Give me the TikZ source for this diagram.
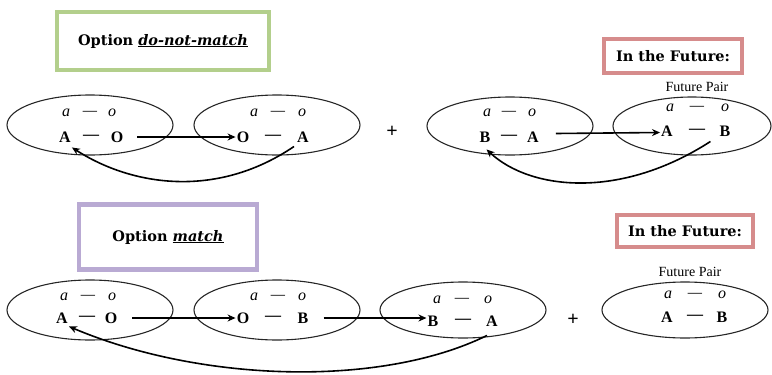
\documentclass[tikz,border=0pt]{standalone}
\usepackage{fontspec}
\setmainfont{Liberation Serif}
\newfontfamily\boxfont{DejaVu Serif}
\usepackage{tikz}
\usepackage{xcolor}
\usetikzlibrary{shapes.geometric,shadows,arrows.meta}

\definecolor{optgreen}{HTML}{B3CF8C}
\definecolor{optpurple}{HTML}{B9AAD3}
\definecolor{futred}{HTML}{D68C8C}

\tikzset{
  pairell/.style={draw=black!85, ellipse, line width=1.1pt, minimum width=#1, minimum height=58pt},
  pairell/.default=166pt,
  lt/.style={inner sep=1pt, font=\fontsize{16}{16}\selectfont\bfseries},
  st/.style={inner sep=1pt, font=\fontsize{16}{16}\selectfont\itshape},
  optbox/.style={draw=#1, line width=4.5pt, fill=white, drop shadow={opacity=0.35, shadow xshift=2pt, shadow yshift=-2pt},
    font=\boxfont\fontsize{14.5}{15}\selectfont\bfseries},
  flow/.style={-{Stealth[length=8pt,width=7pt]}, line width=1.6pt},
}

\begin{document}
\begin{tikzpicture}[x=1pt, y=-1pt]
    \useasboundingbox (0,0) rectangle (772,375);

    % option boxes
    \node[optbox=optgreen, minimum width=212pt, minimum height=58pt] (opt1) at (163,41) {Option \underline{\itshape do-not-match}};
    \node[optbox=futred, minimum width=138pt, minimum height=34pt] (fut1) at (673,56) {In the Future:};
    \node[optbox=optpurple, minimum width=178pt, minimum height=65pt] (opt2) at (168,237) {Option \underline{\itshape match}};
    \node[optbox=futred, minimum width=136pt, minimum height=32pt] (fut2) at (685,231) {In the Future:};

    \node[font=\fontsize{14}{14}\selectfont] (fp1) at (697,87) {Future Pair};
    \node[font=\fontsize{14}{14}\selectfont] (fp2) at (690,272) {Future Pair};

    % top row
    \node[pairell, minimum height=60pt] (e1) at (90,125) {};
    \node[pairell, minimum height=60pt] (e2) at (277,125) {};
    \node[pairell] (e3) at (510,126) {};
    \node[pairell=158pt] (e4) at (692,126) {};

    \node[st] (e1a) at (66,113) {a}; \node[st] at (90,113) {---}; \node[st] (e1o) at (112,113) {o};
    \node[lt] (e1A) at (65,137) {A}; \node[lt] at (91,137) {---}; \node[lt] (e1O) at (117,137) {O};
    \node[st] (e2a) at (254,113) {a}; \node[st] at (278,113) {---}; \node[st] (e2o) at (302,113) {o};
    \node[lt] (e2O) at (243,137) {O}; \node[lt] at (273,137) {---}; \node[lt] (e2A) at (303,137) {A};
    \node[st] (e3a) at (487,113) {a}; \node[st] at (509,113) {---}; \node[st] (e3o) at (532,113) {o};
    \node[lt] (e3B) at (485,137) {B}; \node[lt] at (509,137) {---}; \node[lt] (e3A) at (533,137) {A};
    \node[st] (e4a) at (670,108) {a}; \node[st] at (697,108) {---}; \node[st] (e4o) at (725,108) {o};
    \node[lt] (e4A) at (667,131) {A}; \node[lt] at (697,131) {---}; \node[lt] (e4B) at (725,131) {B};

    \node[font=\fontsize{20}{20}\selectfont\bfseries] (plus1) at (392,132) {+};

    \draw[flow] ([xshift=13pt]e1O.east) -- (e2O.west);
    \draw[flow] ([xshift=16pt,yshift=3.5pt]e3A.east) -- ([yshift=-1.5pt]e4A.west);
    \draw[flow] ([xshift=-2pt,yshift=-3pt]e2A.south west) .. controls (215,200) and (130,185) .. ([yshift=-4pt]e1A.south east);
    \draw[flow] ([xshift=-8pt,yshift=-4pt]e4B.south west) .. controls (620,200) and (530,190) .. ([xshift=-5pt,yshift=-6pt]e3B.south east);

    % bottom row
    \node[pairell, minimum height=60pt] (e5) at (90,310) {};
    \node[pairell, minimum height=60pt] (e6) at (277,310) {};
    \node[pairell, minimum height=56pt] (e7) at (463,310) {};
    \node[pairell, minimum height=56pt] (e8) at (685,310) {};

    \node[st] (e5a) at (64,297) {a}; \node[st] at (88,297) {---}; \node[st] (e5o) at (112,297) {o};
    \node[lt] (e5A) at (62,318) {A}; \node[lt] at (87,318) {---}; \node[lt] (e5O) at (111,318) {O};
    \node[st] (e6a) at (254,297) {a}; \node[st] at (278,297) {---}; \node[st] (e6o) at (302,297) {o};
    \node[lt] (e6O) at (243,318) {O}; \node[lt] at (273,318) {---}; \node[lt] (e6B) at (303,318) {B};
    \node[st] (e7a) at (437,300) {a}; \node[st] at (462,300) {---}; \node[st] (e7o) at (488,300) {o};
    \node[lt] (e7B) at (433,321) {B}; \node[lt] at (463,321) {---}; \node[lt] (e7A) at (492,321) {A};
    \node[st] (e8a) at (668,295) {a}; \node[st] at (695,295) {---}; \node[st] (e8o) at (722,295) {o};
    \node[lt] (e8A) at (667,317) {A}; \node[lt] at (695,317) {---}; \node[lt] (e8B) at (722,317) {B};

    \node[font=\fontsize{20}{20}\selectfont\bfseries] (plus2) at (573,320) {+};

    \draw[flow] ([xshift=14pt]e5O.east) -- (e6O.west);
    \draw[flow] ([xshift=14pt]e6B.east) -- ([yshift=3pt]e7B.west);
    \draw[flow] ([xshift=-5pt,yshift=-8pt]e7A.south) .. controls (380,388) and (200,382) .. ([yshift=-2pt]e5A.south east);
\end{tikzpicture}
\end{document}
